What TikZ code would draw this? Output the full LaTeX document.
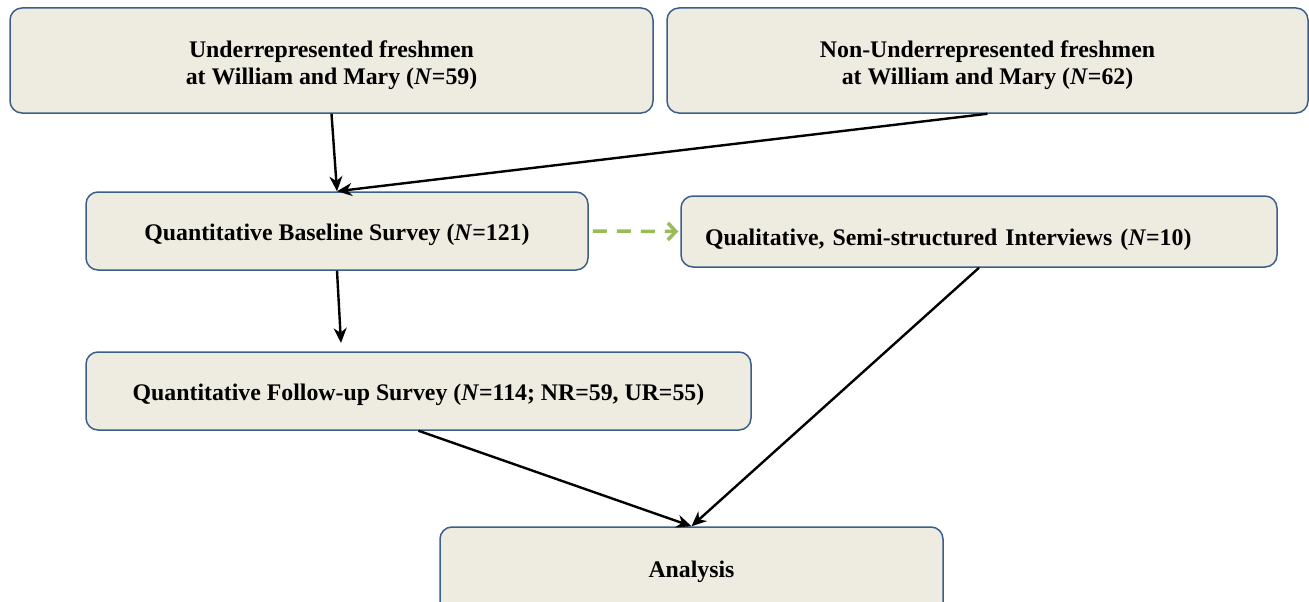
\documentclass[tikz,border=0pt]{standalone}
\usepackage{fontspec}
\setmainfont{Liberation Serif}
\usetikzlibrary{arrows.meta}

\definecolor{boxfill}{HTML}{EEEBE0}
\definecolor{boxline}{HTML}{3A5F8B}
\definecolor{dashgreen}{HTML}{9BBB59}

\begin{document}
\begin{tikzpicture}[
  x=1pt, y=-1pt,
  font=\fontsize{23.8}{27}\selectfont\bfseries,
  stage/.style={draw=boxline,fill=boxfill,line width=1.5pt,rounded corners=12pt,inner sep=0pt,align=center},
  oneline/.style={text height=21pt,text depth=3pt},
  flow/.style={-{Stealth[length=15pt,width=13pt]},line width=2.4pt,black},
  link/.style={-{Straight Barb[length=8pt,width=17pt]},line width=3.5pt,dashgreen,dash pattern=on 14pt off 10pt},
]
\useasboundingbox (0,0) rectangle (1309,602);
\clip (0,0) rectangle (1309,602);

% ---- Source groups (top)
\node[stage,minimum width=643,minimum height=105] (ur) at (331.5,60.5)
  {\rule{0pt}{26pt}Underrepresented freshmen\\at William and Mary (\textit{N}=59)};
\node[stage,minimum width=641,minimum height=105] (nur) at (987.5,60.5)
  {\rule{0pt}{26pt}Non-Underrepresented freshmen\\at William and Mary (\textit{N}=62)};

% ---- Data collection
\node[stage,oneline,minimum width=502,minimum height=78] (qbs) at (337,231)
  {Quantitative Baseline Survey (\textit{N}=121)};
\node[stage,oneline,text height=31pt,minimum width=596,minimum height=71,text width=548,inner xsep=24pt,align=left] (qsi) at (979,231.5)
  {Qualitative, Semi-structured Interviews (\textit{N}=10)};
\node[stage,oneline,minimum width=665,minimum height=78] (qfs) at (418.5,391)
  {Quantitative Follow-up Survey (\textit{N}=114; NR=59, UR=55)};

% ---- Analysis (runs off the bottom)
\node[stage,minimum width=503,minimum height=90] (an) at (691.5,572) {};
\node[oneline] (antext) at (691.5,568) {Analysis};

\coordinate (qfsin) at (341,343);

% ---- Connectors
\draw[flow] (ur.south) -- (qbs.north);
\draw[flow] (nur.south) -- (qbs.north);
\draw[flow] (qbs.south) -- (qfsin);
\draw[flow] (qfs.south) -- (an.north);
\draw[flow] (qsi.south) -- (an.north);
\draw[link,shorten <=4pt,shorten >=2pt] (qbs.east) -- (qsi.west);

\end{tikzpicture}
\end{document}
